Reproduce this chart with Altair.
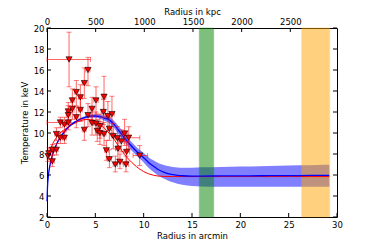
import altair as alt
import pandas as pd

# ---- data points (arcmin, keV) with error ranges ----
pt_x   = [0.1, 0.2, 0.55, 0.55, 0.97, 0.97, 1.38, 1.38, 1.8, 1.8, 2.2, 2.2, 2.2, 2.28, 2.62, 2.62, 3.03, 3.03, 3.45, 3.45,
          3.86, 3.86, 4.24, 4.24, 4.66, 4.66, 5.07, 5.07, 5.2, 5.48, 5.48, 5.83, 5.9, 5.9, 6.14, 6.3, 6.45, 6.45, 6.72, 6.86,
          7.07, 7.28, 7.34, 7.55, 7.69, 8.03, 8.17, 8.24, 8.45, 9.59]
pt_y   = [7.8, 8.05, 7.3, 8.4, 8.4, 9.9, 11.0, 9.55, 9.55, 10.8, 11.0, 12.05, 11.7, 17.0, 13.1, 12.3, 13.9, 11.5, 13.4, 12.2,
          14.75, 10.3, 16.0, 11.7, 12.3, 10.95, 13.1, 10.9, 10.2, 10.65, 10.0, 12.0, 13.45, 9.9, 8.35, 11.6, 10.4, 7.5, 11.8, 9.7,
          7.0, 9.5, 8.5, 7.25, 9.2, 9.95, 7.0, 8.2, 9.55, 7.85]
pt_xlo = [0.0, 0.05, 0.35, 0.35, 0.8, 0.8, 0.0, 1.2, 1.6, 1.6, 2.0, 2.0, 2.0, 0.0, 2.45, 2.45, 2.85, 2.85, 3.25, 3.25,
          3.65, 3.65, 4.0, 4.0, 4.45, 4.45, 4.85, 4.85, 5.0, 5.3, 5.3, 5.6, 5.7, 5.7, 5.95, 6.1, 6.25, 6.25, 6.5, 6.65,
          6.85, 7.05, 7.1, 7.3, 7.45, 7.8, 7.9, 7.95, 8.1, 8.9]
pt_xhi = [0.2, 0.35, 0.75, 0.75, 1.15, 1.15, 2.5, 1.6, 2.0, 2.0, 2.4, 2.4, 2.4, 4.5, 2.8, 2.8, 3.2, 3.2, 3.65, 3.65,
          4.05, 4.05, 4.45, 4.45, 4.85, 4.85, 5.3, 5.3, 5.4, 5.7, 5.7, 6.05, 6.1, 6.1, 6.35, 6.5, 6.65, 6.65, 6.95, 7.05,
          7.3, 7.5, 7.55, 7.8, 7.95, 8.3, 8.45, 8.55, 9.6, 10.4]
pt_ylo = [7.3, 7.5, 6.8, 7.9, 7.9, 9.3, 10.5, 9.0, 9.0, 10.1, 10.3, 11.2, 10.8, 14.4, 12.0, 11.3, 12.6, 10.5, 12.2, 11.1,
          13.3, 9.3, 14.5, 10.6, 11.2, 9.8, 11.8, 9.8, 9.2, 9.5, 8.9, 10.8, 11.5, 8.8, 7.4, 10.2, 9.3, 6.7, 10.0, 8.5,
          6.3, 8.4, 7.5, 6.6, 8.2, 8.8, 6.3, 7.3, 8.5, 6.9]
pt_yhi = [8.3, 8.6, 7.9, 8.9, 9.0, 10.5, 11.5, 10.1, 10.2, 11.5, 11.8, 12.9, 12.6, 19.6, 14.2, 13.3, 15.0, 12.5, 14.6, 13.3,
          16.2, 11.3, 17.2, 12.8, 13.4, 12.0, 14.4, 12.0, 11.3, 11.8, 11.1, 13.2, 15.4, 11.0, 9.3, 13.0, 11.5, 8.4, 13.5, 10.9,
          7.8, 10.6, 9.5, 8.0, 10.3, 11.3, 7.8, 9.2, 10.6, 8.8]

# ---- blue model with uncertainty band ----
blue_x   = [0, 0.05, 0.15, 0.3, 0.5, 0.75, 1.0, 1.35, 1.7, 2.0, 2.5, 3.0, 3.5, 4.0, 4.5, 5.0, 5.5, 6.0, 6.5, 7.0,
            7.5, 8.0, 8.5, 9.0, 9.5, 10.0, 10.5, 11.0, 11.5, 12.0, 12.5, 13.0, 13.5, 14.0, 15.0, 16.0, 18.0, 20.0, 22.0, 24.0,
            26.0, 28.0, 29.2]
blue_mid = [3.5, 4.8, 6.0, 6.9, 7.7, 8.4, 8.95, 9.55, 10.0, 10.35, 10.8, 11.1, 11.35, 11.5, 11.6, 11.62, 11.55, 11.4, 11.2, 10.75,
            10.15, 9.55, 9.0, 8.5, 8.05, 7.65, 7.2, 6.85, 6.52, 6.3, 6.13, 6.03, 5.97, 5.93, 5.9, 5.9, 5.91, 5.92, 5.93, 5.94,
            5.95, 5.96, 5.96]
blue_hi  = [3.6, 4.9, 6.1, 7.0, 7.8, 8.5, 9.05, 9.65, 10.1, 10.45, 10.9, 11.2, 11.45, 11.62, 11.74, 11.78, 11.75, 11.65, 11.5, 11.1,
            10.55, 9.95, 9.4, 8.9, 8.45, 8.1, 7.7, 7.4, 7.15, 6.98, 6.85, 6.76, 6.71, 6.69, 6.7, 6.73, 6.77, 6.8, 6.84, 6.88,
            6.92, 6.95, 6.97]
blue_lo  = [3.4, 4.7, 5.9, 6.8, 7.6, 8.3, 8.85, 9.45, 9.9, 10.25, 10.7, 11.0, 11.25, 11.38, 11.46, 11.46, 11.35, 11.15, 10.9, 10.4,
            9.75, 9.15, 8.6, 8.1, 7.65, 7.2, 6.7, 6.3, 5.95, 5.68, 5.48, 5.3, 5.17, 5.07, 4.95, 4.9, 4.88, 4.87, 4.87, 4.87,
            4.87, 4.87, 4.87]

# ---- red model ----
red_x = [0.1, 0.3, 0.5, 0.75, 1.0, 1.35, 1.7, 2.0, 2.5, 3.0, 3.5, 4.0, 4.5, 5.0, 5.5, 6.0, 6.5, 7.0, 7.5, 8.0,
         8.5, 9.0, 9.5, 10.0, 10.5, 11.0, 11.5, 12.0, 13.0, 15.0, 20.0, 25.0, 29.2]
red_y = [7.9, 8.35, 8.8, 9.25, 9.6, 10.0, 10.25, 10.45, 10.75, 11.0, 11.18, 11.28, 11.3, 11.15, 10.85, 10.4, 9.9, 9.3, 8.65, 8.0,
         7.45, 7.0, 6.62, 6.33, 6.12, 5.98, 5.9, 5.87, 5.85, 5.85, 5.85, 5.85, 5.85]

# ---- shaded regions ----
band_start = [15.75, 26.35]
band_end   = [17.25, 29.25]
band_color = ["#008000", "#ffa500"]

# ---- ticks ----
x_ticks   = [0, 5, 10, 15, 20, 25, 30]
y_ticks   = [2, 4, 6, 8, 10, 12, 14, 16, 18, 20]
kpc_ticks = [0, 500, 1000, 1500, 2000, 2500]
kpc_max   = 2980

W, H = 290, 189
FONT = "DejaVu Sans"

pts = pd.DataFrame(dict(x=pt_x, y=pt_y, xlo=pt_xlo, xhi=pt_xhi, ylo=pt_ylo, yhi=pt_yhi))
caps_v = pd.DataFrame(dict(x=pt_x + pt_x, y=pt_ylo + pt_yhi))
caps_h = pd.DataFrame(dict(x=pt_xlo + pt_xhi, y=pt_y + pt_y))
blue = pd.DataFrame(dict(x=blue_x, mid=blue_mid, hi=blue_hi, lo=blue_lo))
red = pd.DataFrame(dict(x=red_x, y=red_y))
bands = pd.DataFrame(dict(x0=band_start, x1=band_end, c=band_color))
xt = pd.DataFrame(dict(xt=x_ticks))
yt = pd.DataFrame(dict(yt=y_ticks))
kt = pd.DataFrame(dict(kpc=kpc_ticks))

xs = alt.Scale(domain=[0, 30], nice=False, zero=False)
ys = alt.Scale(domain=[2, 20], nice=False, zero=False)
x_axis = alt.Axis(title="Radius in arcmin", values=x_ticks, labelPadding=3, titlePadding=3)
y_axis = alt.Axis(title="Temperature in keV", values=y_ticks, labelPadding=3, titlePadding=4)

def X(f):
    return alt.X(f, type="quantitative", scale=xs, axis=x_axis)

def Y(f):
    return alt.Y(f, type="quantitative", scale=ys, axis=y_axis)

band = alt.Chart(blue).mark_area(color="#0000ff", opacity=0.5, interpolate="monotone").encode(
    x=X("x"), y=Y("hi"), y2="lo")
vb = alt.Chart(bands).mark_rect(opacity=0.5, strokeOpacity=0.5, strokeWidth=1).encode(
    x=X("x0"), x2="x1", y=alt.value(0), y2=alt.value(H),
    fill=alt.Fill("c:N", scale=None), stroke=alt.Stroke("c:N", scale=None))
bline = alt.Chart(blue).mark_line(color="#0000ff", strokeWidth=1.3, interpolate="monotone").encode(
    x=X("x"), y=Y("mid"))
rline = alt.Chart(red).mark_line(color="#ff0000", strokeWidth=1, interpolate="monotone").encode(
    x=X("x"), y=Y("y"))
ev = alt.Chart(pts).mark_rule(color="#ff0000", opacity=0.6, strokeWidth=1).encode(
    x=X("x"), y=Y("ylo"), y2="yhi")
eh = alt.Chart(pts).mark_rule(color="#ff0000", opacity=0.6, strokeWidth=1).encode(
    x=X("xlo"), x2="xhi", y=Y("y"))
cv = alt.Chart(caps_v).mark_tick(color="#ff0000", opacity=0.5, orient="horizontal", size=5, thickness=1).encode(
    x=X("x"), y=Y("y"))
ch = alt.Chart(caps_h).mark_tick(color="#ff0000", opacity=0.5, orient="vertical", size=5, thickness=1).encode(
    x=X("x"), y=Y("y"))
points = alt.Chart(pts).mark_point(shape="triangle-down", filled=True, fill="#ff0000", stroke="black",
                                   strokeWidth=0.6, size=38, opacity=1).encode(x=X("x"), y=Y("y"))

tl = alt.Chart(yt).mark_rule(color="black", strokeWidth=1).encode(y=Y("yt"), x=alt.value(0), x2=alt.value(4))
tr = alt.Chart(yt).mark_rule(color="black", strokeWidth=1).encode(y=Y("yt"), x=alt.value(W - 4), x2=alt.value(W))
tb = alt.Chart(xt).mark_rule(color="black", strokeWidth=1).encode(x=X("xt"), y=alt.value(H - 4), y2=alt.value(H))

main = alt.layer(band, vb, rline, bline, ev, eh, cv, ch, points, tl, tr, tb)

top = alt.Chart(kt).mark_rule(color="black", strokeWidth=1).encode(
    x=alt.X("kpc:Q", scale=alt.Scale(domain=[0, kpc_max], nice=False, zero=False),
            axis=alt.Axis(orient="top", values=kpc_ticks, format="d", title="Radius in kpc", labelPadding=2,
                          titleY=-14, titleBaseline="alphabetic")),
    y=alt.value(0), y2=alt.value(4))

chart = alt.layer(main, top).resolve_scale(x="independent").properties(
    width=W, height=H,
    autosize=alt.AutoSizeParams(type="none"),
    padding={"left": 39, "top": 20, "right": 25, "bottom": 26},
).configure_view(stroke="black", strokeWidth=1).configure_axis(
    labelFont=FONT, titleFont=FONT, labelFontSize=8.5, titleFontSize=8.5, titleFontWeight="normal",
    labelColor="black", titleColor="black", grid=False, ticks=False, tickSize=0, domain=False,
    labelFlush=False, labelOverlap=False,
)

chart.save("out.html", embed_options={"renderer": "svg", "actions": False})
